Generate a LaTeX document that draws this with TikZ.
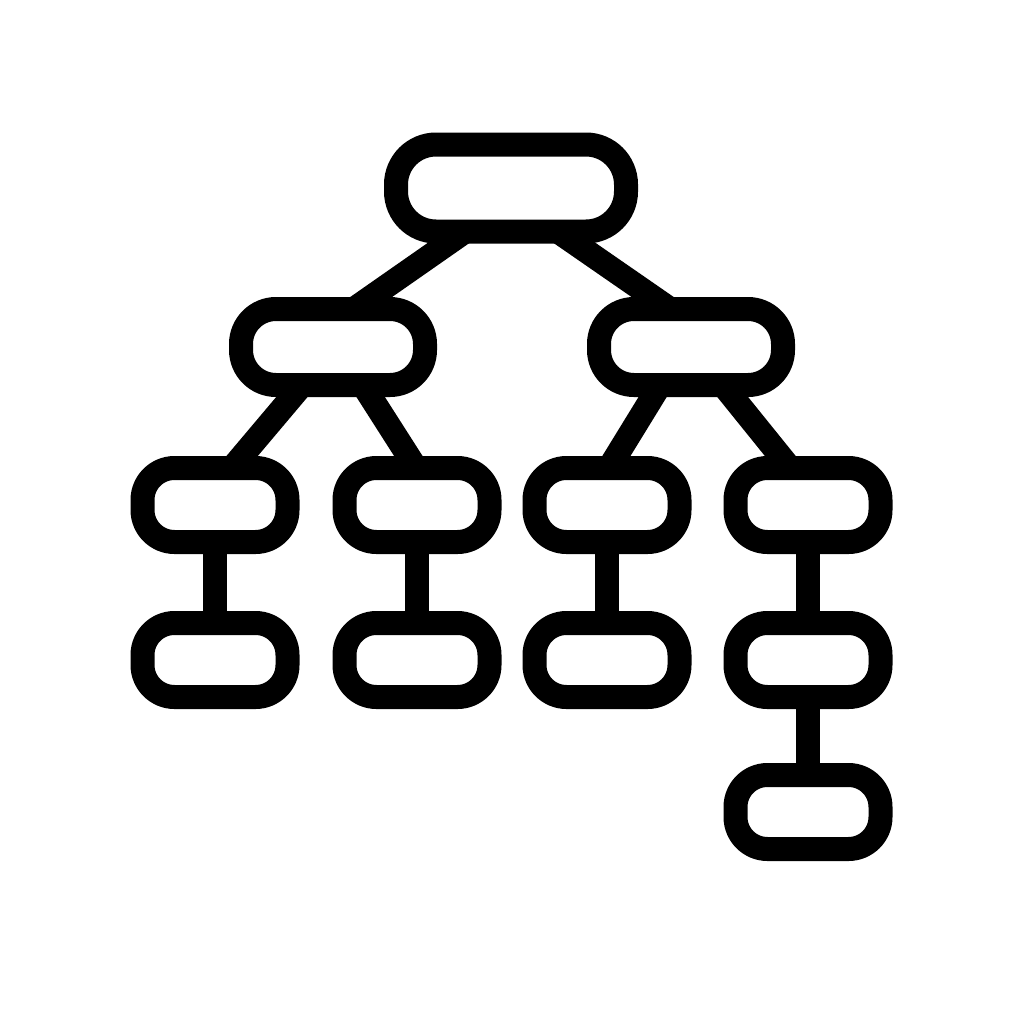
\documentclass[tikz,border=0pt]{standalone}
\newcommand{\px}{0.03cm}

\begin{document}
\begin{tikzpicture}[box/.style={draw, rectangle, line width=24*\px, rounded corners=32*\px, minimum width=145*\px, minimum height=74*\px, inner sep=0pt, outer sep=0pt},
    rootbox/.style={box, rounded corners=40*\px, minimum width=230*\px, minimum height=87*\px},
    midbox/.style={box, rounded corners=35*\px, minimum width=184*\px, minimum height=76*\px},
    link/.style={line width=24*\px}]
    \useasboundingbox (0,0) rectangle (1024*\px,-1024*\px);

    % Root
    \node[rootbox] (box-0) at (511*\px,-188*\px) {};

    % Second row
    \node[midbox] (box-1-1) at (333*\px,-347*\px) {};
    \node[midbox] (box-1-2) at (691*\px,-347*\px) {};

    % Third row
    \node[box] (box-2-1) at (215*\px,-505*\px) {};
    \node[box] (box-2-2) at (417*\px,-505*\px) {};
    \node[box] (box-2-3) at (607*\px,-505*\px) {};
    \node[box] (box-2-4) at (808*\px,-505*\px) {};

    % Fourth row
    \node[box] (box-3-1) at (215*\px,-660*\px) {};
    \node[box] (box-3-2) at (417*\px,-660*\px) {};
    \node[box] (box-3-3) at (607*\px,-660*\px) {};
    \node[box] (box-3-4) at (808*\px,-660*\px) {};

    % Last one
    \node[box] (box-4-4) at (808*\px,-812*\px) {};

    % Links
    \draw[link] ([xshift=-46*\px]box-0.south) -- ([xshift=21*\px]box-1-1.north);
    \draw[link] ([xshift=47*\px]box-0.south) -- ([xshift=-21*\px]box-1-2.north);

    \draw[link] ([xshift=-31*\px]box-1-1.south) -- ([xshift=17*\px]box-2-1.north);
    \draw[link] ([xshift=30*\px]box-1-1.south) -- ([xshift=-1*\px]box-2-2.north);
    \draw[link] ([xshift=-31*\px]box-1-2.south) -- ([xshift=2*\px]box-2-3.north);
    \draw[link] ([xshift=32*\px]box-1-2.south) -- ([xshift=-18*\px]box-2-4.north);

    \draw[link] (box-2-1.south) -- (box-3-1.north);
    \draw[link] (box-2-2.south) -- (box-3-2.north);
    \draw[link] (box-2-3.south) -- (box-3-3.north);
    \draw[link] (box-2-4.south) -- (box-3-4.north);
    \draw[link] (box-3-4.south) -- (box-4-4.north);

\end{tikzpicture}
\end{document}
